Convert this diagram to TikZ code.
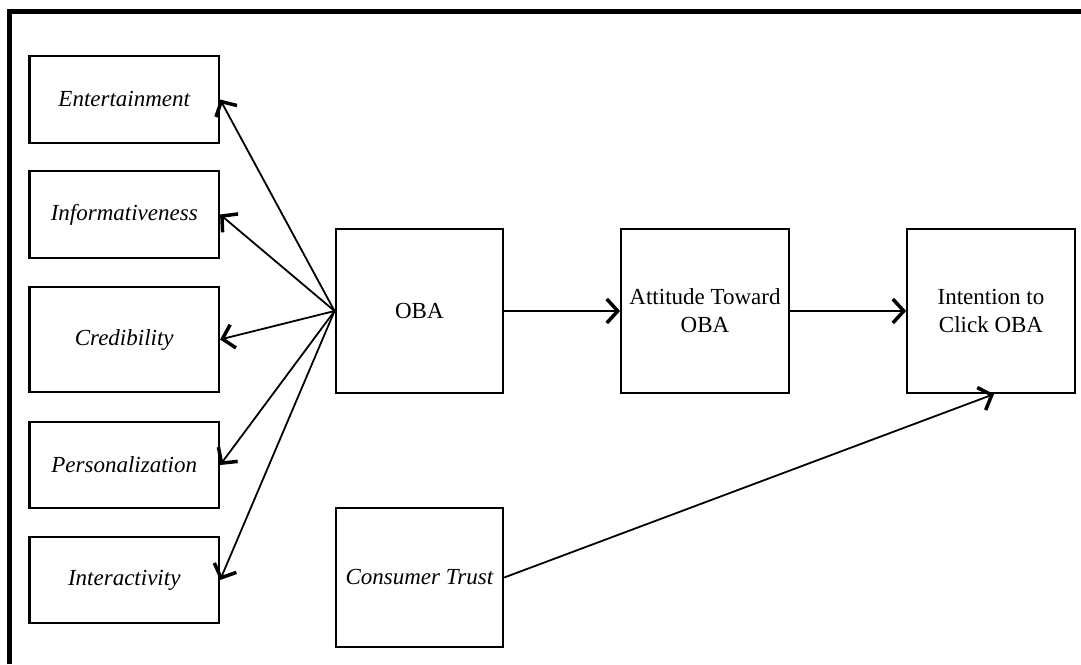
\documentclass[tikz,border=0pt]{standalone}
\usepackage{fontspec}
\setmainfont{Liberation Serif}
\usetikzlibrary{arrows.meta}
\tikzset{
  box/.style={draw, line width=2.2pt, rectangle, inner sep=0pt, align=center,
    font=\fontsize{23}{28}\selectfont},
  lbox/.style={box, minimum width=189.5pt, font=\fontsize{23}{28}\selectfont\itshape},
  mbox/.style={box, minimum width=167.5pt, minimum height=164pt},
  conn/.style={line width=1.8pt, -{Straight Barb[length=11pt,width=24pt,line width=3.5pt]}},
  frame/.style={line width=5pt}
}
\begin{document}
\begin{tikzpicture}[x=1pt,y=-1pt]
\useasboundingbox (0,0) rectangle (1081,664);
\draw[frame] (9,664) |- (1081,11.7);
% left boxes
\node[lbox, minimum height=87pt] (ent) at (124.25,99.5) {Entertainment};
\node[lbox, minimum height=87pt] (inf) at (124.25,214.5) {Informativeness};
\node[lbox, minimum height=105pt] (cred) at (124.25,339.5) {Credibility};
\node[lbox, minimum height=86pt] (pers) at (124.25,465) {Personalization};
\node[lbox, minimum height=86pt] (inter) at (124.25,580) {Interactivity};
% main boxes
\node[mbox] (oba) at (419.4,311) {OBA};
\node[mbox] (att) at (705,311) {Attitude Toward\\OBA};
\node[mbox] (int) at (991,311) {Intention to\\Click OBA};
\node[box, minimum width=167.5pt, minimum height=139pt, font=\fontsize{23}{28}\selectfont\itshape] (ct) at (419.4,577.5) {Consumer Trust};
% connectors
\draw[conn] (oba.west) -- (ent.east);
\draw[conn] (oba.west) -- (inf.east);
\draw[conn] (oba.west) -- (cred.east);
\draw[conn] (oba.west) -- (pers.east);
\draw[conn] (oba.west) -- (inter.east);
\draw[conn] (oba.east) -- (att.west);
\draw[conn] (att.east) -- (int.west);
\coordinate (intb) at ([xshift=3pt]int.south);
\draw[conn] (ct.east) -- (intb);
\end{tikzpicture}
\end{document}
